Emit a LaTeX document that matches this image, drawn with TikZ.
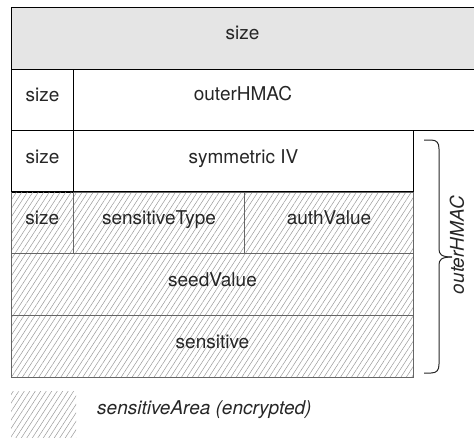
\documentclass[tikz,border=0pt]{standalone}
\usepackage{fontspec}
\setmainfont{TeX Gyre Heros}
\usetikzlibrary{patterns.meta}
\tikzset{
  txt/.style={font=\fontsize{19}{21}\selectfont, text=black!85, text height=0.66em, text depth=0.28em},
  cell/.style={txt, draw=black, line width=0.9pt, inner sep=0pt, anchor=north west},
  hatchcell/.style={cell, draw=black!60, line width=1pt, pattern={Lines[angle=57, distance=4.6pt, line width=0.5pt]}, pattern color=black!40},
  toprow/.style={cell, fill=black!10, line width=1.3pt},
}
\begin{document}
\begin{tikzpicture}[x=1pt, y=-1pt]
\useasboundingbox (0,0) rectangle (474,437);
\clip (0,0) rectangle (474,437);
% top row
\node[toprow, minimum width=480pt, minimum height=62pt] (top) at (11,6.5) {};
\node[txt] (topt) at (242.5,37.5) {size};
% row 2
\node[cell, minimum width=62pt, minimum height=61.5pt] (r2size) at (11,68.5) {size};
\node[cell, minimum width=420pt, minimum height=61.5pt] (r2hmac) at (73,68.5) {};
\node[txt] (r2t) at (243,99) {outerHMAC};
% row 3
\node[cell, minimum width=62pt, minimum height=61.5pt] (r3size) at (11,130) {size};
\node[cell, minimum width=340pt, minimum height=61.5pt] (r3iv) at (73,130) {symmetric IV};
% row 4 (hatched)
\node[hatchcell, minimum width=62pt, minimum height=61.5pt] (r4size) at (11,191.5) {size};
\node[hatchcell, minimum width=171pt, minimum height=61.5pt] (r4type) at (73,191.5) {sensitiveType};
\node[hatchcell, minimum width=169pt, minimum height=61.5pt] (r4auth) at (244,191.5) {authValue};
% row 5
\node[hatchcell, minimum width=402pt, minimum height=62pt] (seed) at (11,253) {seedValue};
% row 6
\node[hatchcell, minimum width=402pt, minimum height=62pt] (sens) at (11,315) {sensitive};
% redraw top line of hatched area in black
\draw[black, line width=0.9pt] (r4size.north west) -- (r4auth.north east);
% legend
\node[inner sep=0pt, anchor=north west, minimum width=65pt, minimum height=46pt, pattern={Lines[angle=57, distance=4.6pt, line width=0.5pt]}, pattern color=black!40] (leg) at (11,391) {};
\node[txt, anchor=west, inner sep=0pt, font=\fontsize{19}{21}\selectfont\itshape] (legt) at (97,413) {sensitiveArea (encrypted)};
% brace
\coordinate (bt) at (424,140);
\coordinate (bm) at (452,257);
\coordinate (bb) at (424,373);
\draw[black!85, line width=1pt] (bt) -- (431,140) .. controls (437,140) and (439,143) .. (439,149)
  -- (439,249) .. controls (439,254) and (441,257) .. (bm);
\draw[black!85, line width=1pt] (bm) .. controls (441,257) and (439,260) .. (439,265)
  -- (439,364) .. controls (439,370) and (437,373) .. (431,373) -- (bb);
\node[txt, rotate=90, inner sep=0pt, font=\fontsize{19}{21}\selectfont\itshape] (blab) at (462,245) {outerHMAC};
\end{tikzpicture}
\end{document}
